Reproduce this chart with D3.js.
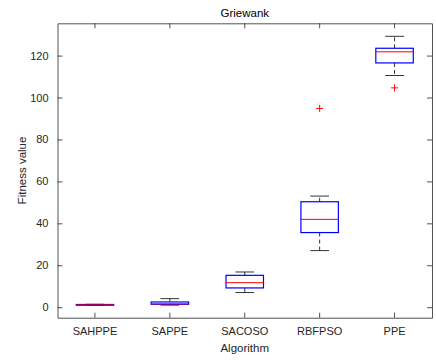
<!DOCTYPE html>
<html><head><meta charset="utf-8">
<script src="https://cdn.jsdelivr.net/npm/d3@7"></script>
<style>body{margin:0;background:#fff}svg{display:block}</style>
</head><body>
<script>
const categories = ["SAHPPE","SAPPE","SACOSO","RBFPSO","PPE"];
const lowerWhisker = [0.9, 1.0, 7.0, 27.0, 110.5];
const q1 =           [0.95, 1.4, 9.2, 35.6, 116.5];
const medians =      [1.1, 1.6, 11.7, 41.9, 121.8];
const q3 =           [1.3, 2.5, 15.2, 50.3, 123.5];
const upperWhisker = [1.4, 4.1, 16.8, 53.0, 129.2];
const outliers =     [[], [], [], [94.8], [104.6]];
const yTicks = [0, 20, 40, 60, 80, 100, 120];

const W = 436, H = 360;
const m = {left: 57.5, right: 4, top: 23.3, bottom: 42.3};
const svg = d3.select("body").append("svg").attr("width", W).attr("height", H)
  .style("font-family", "'Liberation Sans', Arial, sans-serif");

const x = d3.scaleBand().domain(categories).range([m.left, W - m.right]);
const y = d3.scaleLinear().domain([-5, 135.4]).range([H - m.bottom, m.top]);
const axCol = "#262626";
const pw = x.range()[1] - m.left;

// axes
const gx = svg.append("g").attr("transform", `translate(0,${H - m.bottom})`)
  .call(d3.axisBottom(x).tickSizeInner(-5).tickSizeOuter(0).tickPadding(10));
const gxt = svg.append("g").attr("transform", `translate(0,${m.top})`)
  .call(d3.axisTop(x).tickSizeInner(-5).tickSizeOuter(0).tickFormat(""));
const gy = svg.append("g").attr("transform", `translate(${m.left},0)`)
  .call(d3.axisLeft(y).tickValues(yTicks).tickSizeInner(-5).tickSizeOuter(0).tickPadding(9));
const gyr = svg.append("g").attr("transform", `translate(${W - m.right},0)`)
  .call(d3.axisRight(y).tickValues(yTicks).tickSizeInner(-5).tickSizeOuter(0).tickFormat(""));
[gx, gxt, gy, gyr].forEach(g => {
  g.selectAll("path").attr("stroke", axCol).attr("stroke-width", 0.8);
  g.selectAll("line").attr("stroke", axCol).attr("stroke-width", 0.8);
  g.selectAll("text").attr("fill", axCol).style("font-size", "11px");
});

const bw = x.bandwidth() * 0.5, cw = x.bandwidth() * 0.25;
const g = svg.append("g");
categories.forEach((c, i) => {
  const cx = x(c) + x.bandwidth() / 2;
  // whiskers
  g.append("line").attr("x1", cx).attr("x2", cx).attr("y1", y(q3[i])).attr("y2", y(upperWhisker[i]))
    .attr("stroke", "#000").attr("stroke-dasharray", "4,3").attr("stroke-width", 0.8);
  g.append("line").attr("x1", cx).attr("x2", cx).attr("y1", y(q1[i])).attr("y2", y(lowerWhisker[i]))
    .attr("stroke", "#000").attr("stroke-dasharray", "4,3").attr("stroke-width", 0.8);
  [upperWhisker[i], lowerWhisker[i]].forEach(v => {
    g.append("line").attr("x1", cx - cw / 2).attr("x2", cx + cw / 2).attr("y1", y(v)).attr("y2", y(v))
      .attr("stroke", "#000").attr("stroke-width", 0.8);
  });
  g.append("rect").attr("x", cx - bw / 2).attr("width", bw)
    .attr("y", y(q3[i])).attr("height", Math.max(0.5, y(q1[i]) - y(q3[i])))
    .attr("fill", "none").attr("stroke", "#0000ff").attr("stroke-width", 1.2);
  g.append("line").attr("x1", cx - bw / 2).attr("x2", cx + bw / 2).attr("y1", y(medians[i])).attr("y2", y(medians[i]))
    .attr("stroke", "#ff0000").attr("stroke-width", 1);
  outliers[i].forEach(v => {
    const s = 3.5;
    g.append("path").attr("d", `M${cx - s},${y(v)}H${cx + s}M${cx},${y(v) - s}V${y(v) + s}`)
      .attr("stroke", "#ff0000").attr("stroke-width", 1);
  });
});

svg.append("text").attr("x", m.left + pw / 2).attr("y", 17).attr("text-anchor", "middle")
  .style("font-size", "11.5px").attr("fill", "#000").text("Griewank");
svg.append("text").attr("x", m.left + pw / 2).attr("y", 352).attr("text-anchor", "middle")
  .style("font-size", "11.5px").attr("fill", axCol).text("Algorithm");
svg.append("text").attr("transform", `translate(26,${(m.top + H - m.bottom) / 2}) rotate(-90)`)
  .attr("text-anchor", "middle").style("font-size", "11.5px").attr("fill", axCol).text("Fitness value");
</script>
</body></html>
